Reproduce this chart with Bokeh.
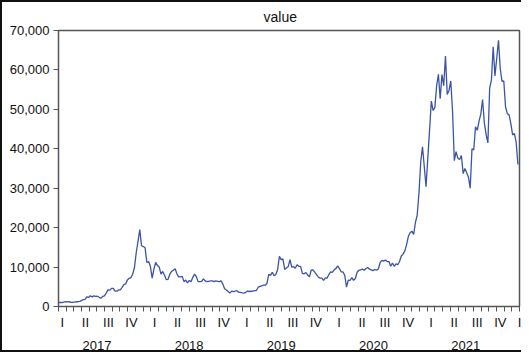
from bokeh.plotting import figure
from bokeh.models import Range1d, LinearAxis, FixedTicker, NumeralTickFormatter, ColumnDataSource
from bokeh.embed import file_html
from bokeh.resources import INLINE

step_days = 7
values_2017 = [1000, 1060, 1010, 1130, 1230, 1150, 1240, 1040, 1040, 1130, 1200, 1210,
               1320, 1490, 1760, 1800, 2450, 2300, 2700, 2440, 2700, 2580, 2600, 2330,
               2100, 2560, 2700, 3400, 4200, 4150, 4580, 4600, 3880, 3900, 4200, 4220,
               4830, 5570, 5730, 6750, 7140, 7300, 8230, 9900, 13700, 16500, 19500, 15400]
values_2018 = [15200, 14900, 11200, 11400, 10200, 7200, 9500, 11200, 10400, 10000, 8200, 8900,
               7900, 6800, 6900, 8200, 8900, 9200, 9600, 8300, 7500, 7500, 7650, 6300,
               6700, 6000, 6600, 6300, 7400, 8200, 7600, 6300, 6300, 6400, 7000, 6500,
               6300, 6400, 6500, 6500, 6300, 6500, 6400, 6300, 6500, 5700, 4500, 4200,
               3800, 3400, 3900, 3800]
values_2019 = [3900, 4000, 3600, 3580, 3450, 3400, 3600, 3950, 3800, 3870, 3880, 4050,
               4050, 4900, 5100, 5250, 5400, 5400, 5900, 8200, 7900, 8700, 7800, 8100,
               9300, 12700, 11900, 12100, 9400, 9800, 10100, 11900, 10000, 10100, 9700, 10600,
               10200, 10200, 8400, 8300, 8600, 8000, 7500, 9200, 9300, 8700, 8100, 7500,
               7200, 7200, 6600, 7250]
values_2020 = [7200, 8100, 8800, 8650, 9300, 9600, 10300, 9600, 8800, 8750, 7900, 4900,
               6700, 6600, 7300, 6640, 7100, 8700, 9200, 9300, 9500, 9200, 9650, 9900,
               9450, 9300, 9100, 9400, 9200, 9500, 11100, 11700, 11500, 11800, 11400, 11400,
               10200, 11000, 10200, 10800, 10600, 11400, 12800, 13300, 14100, 15700, 17800, 18700,
               19100, 18300, 21300, 23200, 28800]
values_2021 = [36700, 40500, 35500, 30400, 37600, 44800, 52100, 49700, 50500, 56000, 58900, 52700,
               58800, 56000, 63500, 53800, 54800, 57200, 49500, 37000, 39300, 37600, 37300, 38300,
               33700, 35000, 33900, 32800, 30000, 40000, 39700, 45600, 44700, 47000, 48800, 52500,
               46500, 43600, 41500, 55300, 57400, 65900, 58500, 62900, 67500, 60300, 57100, 57200,
               50600, 48900, 48600, 46400]
values_2022 = [43500, 43900, 41700, 36000]

values = values_2017 + values_2018 + values_2019 + values_2020 + values_2021 + values_2022
# position in months since the start of 2017
months = [i * step_days * 12 / 365.25 for i in range(len(values))]

years = ["2017", "2018", "2019", "2020", "2021"]
quarter_labels = ["I", "II", "III", "IV"]
y_ticks = [0, 10000, 20000, 30000, 40000, 50000, 60000, 70000]

src = ColumnDataSource(data=dict(x=months, y=values))

AX = "#555555"
FONT = "Liberation Sans"

p = figure(width=521, height=352, output_backend="svg", toolbar_location=None,
           x_range=Range1d(0, 12 * len(years)), y_range=Range1d(y_ticks[0], y_ticks[-1]),
           x_axis_location=None, min_border_left=58, min_border_right=2,
           min_border_top=29, min_border_bottom=46)
p.styles = {"box-shadow": "inset 2px 2px 0 0 #111111, inset 0 -2px 0 0 #111111"}

p.line("x", "y", source=src, line_color="#3b54a5", line_width=1.3)

p.grid.visible = False
p.outline_line_color = AX
p.outline_line_width = 1.5
p.background_fill_color = "white"
p.border_fill_color = None

p.title.text = "value"
p.title.align = "left"
p.title.offset = 205
p.title.text_font = FONT
p.title.text_font_size = "14px"
p.title.text_font_style = "normal"
p.title.text_color = "#111111"
p.title.standoff = 12

ya = p.yaxis[0]
ya.ticker = FixedTicker(ticks=y_ticks)
ya.formatter = NumeralTickFormatter(format="0,0")
ya.major_tick_out = 5
ya.major_tick_in = 0
ya.minor_tick_out = 0
ya.minor_tick_in = 0
ya.major_label_standoff = 4
ya.major_label_text_font = FONT
ya.major_label_text_font_size = "13px"
ya.major_label_text_color = "#111111"
ya.axis_line_color = AX
ya.major_tick_line_color = AX

# quarter axis: labels in the middle of each quarter's first month, monthly ticks
q_ticks, q_over = [], {}
for yi in range(len(years)):
    for qi, ql in enumerate(quarter_labels):
        t = float(12 * yi + 3 * qi) + 0.5
        q_ticks.append(t)
        q_over[t] = ql
end_t = float(12 * len(years))
q_ticks.append(end_t)
q_over[end_t] = quarter_labels[0]
month_ticks = list(range(0, 12 * len(years) + 1))

qa = LinearAxis(ticker=FixedTicker(ticks=q_ticks, minor_ticks=month_ticks),
                major_label_overrides=q_over)
qa.major_tick_out = 0
qa.major_tick_in = 0
qa.minor_tick_out = 5
qa.minor_tick_in = 0
qa.minor_tick_line_color = AX
qa.axis_line_color = AX
qa.major_label_standoff = 3
qa.major_label_text_font = FONT
qa.major_label_text_font_size = "13px"
qa.major_label_text_color = "#111111"
p.add_layout(qa, "below")

yr_ticks = [float(12 * i + 5) for i in range(len(years))]
ya2 = LinearAxis(ticker=FixedTicker(ticks=yr_ticks, minor_ticks=[]),
                 major_label_overrides={t: s for t, s in zip(yr_ticks, years)})
ya2.major_tick_out = 0
ya2.major_tick_in = 0
ya2.minor_tick_out = 0
ya2.minor_tick_in = 0
ya2.axis_line_color = None
ya2.major_label_standoff = 8
ya2.major_label_text_font = FONT
ya2.major_label_text_font_size = "13px"
ya2.major_label_text_color = "#111111"
p.add_layout(ya2, "below")

open("out.html", "w").write(file_html(p, INLINE))
